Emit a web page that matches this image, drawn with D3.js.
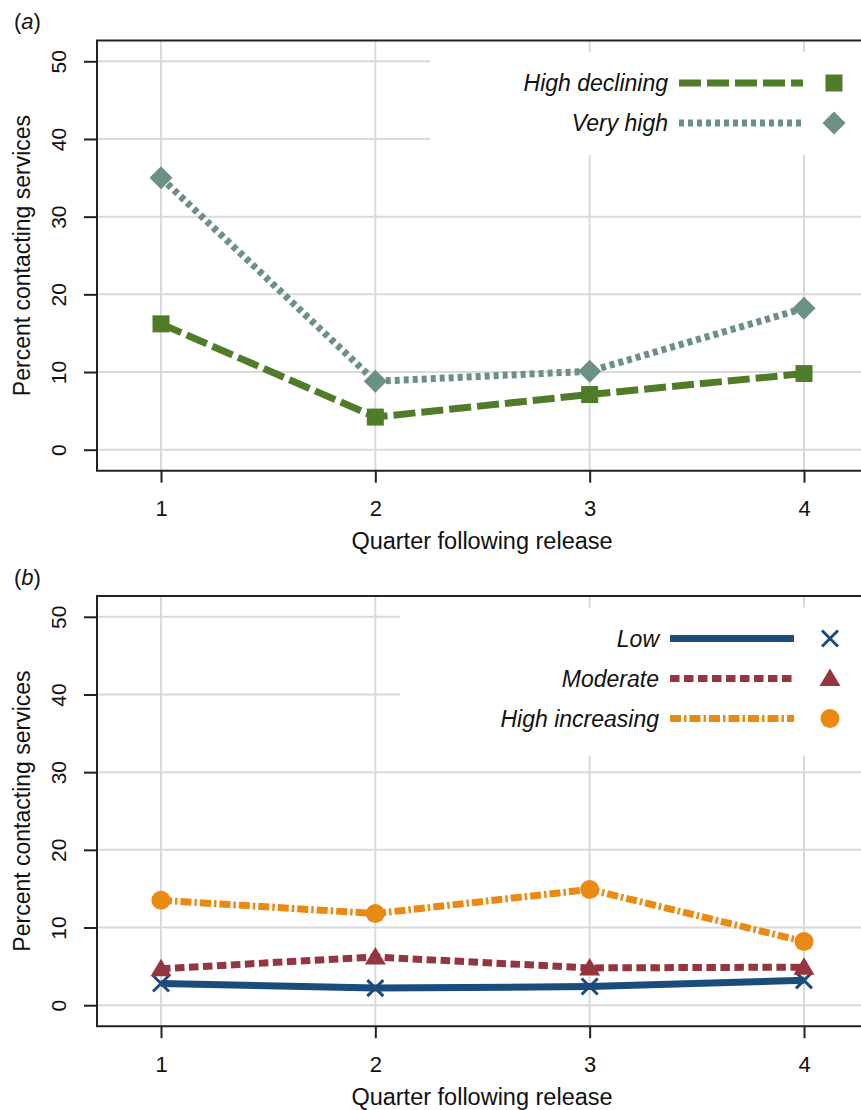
<!DOCTYPE html>
<html>
<head>
<meta charset="utf-8">
<script src="https://cdn.jsdelivr.net/npm/d3@7"></script>
<style>
  body { margin: 0; background: #fff; }
  svg { display: block; font-family: "Liberation Sans", Arial, sans-serif; }
</style>
</head>
<body>
<div id="chart"></div>
<script>
// data
const quarters = [1, 2, 3, 4];
const yTicks = [0, 10, 20, 30, 40, 50];

const highDeclining = [16.2, 4.2, 7.1, 9.8];
const veryHigh = [35.0, 8.8, 10.1, 18.2];

const low = [2.8, 2.2, 2.4, 3.2];
const moderate = [4.7, 6.2, 4.8, 4.9];
const highIncreasing = [13.5, 11.8, 14.9, 8.2];

const panelLabels = ["a", "b"];
const xTitle = "Quarter following release";
const yTitle = "Percent contacting services";

// styles per series
const styles = {
    "High declining": { color: "#507b28", dash: "22,6", marker: "square" },
    "Very high": { color: "#6b9183", dash: "5,4", marker: "diamond" },
    "Low": { color: "#1c4c7c", dash: null, marker: "cross" },
    "Moderate": { color: "#943540", dash: "9.5,4.5", marker: "triangle" },
    "High increasing": { color: "#ea8a12", dash: "11,3,2.5,3", marker: "circle" }
};

const panels = [
    {
        label: panelLabels[0],
        offset: 0,
        series: [
            { name: "High declining", values: highDeclining },
            { name: "Very high", values: veryHigh }
        ],
        legend: { boxX: 430, boxY: 52, boxH: 103, lineX: 679, markerX: 834 }
    },
    {
        label: panelLabels[1],
        offset: 555.5,
        series: [
            { name: "Low", values: low },
            { name: "Moderate", values: moderate },
            { name: "High increasing", values: highIncreasing }
        ],
        legend: { boxX: 400, boxY: 52, boxH: 148, lineX: 670, markerX: 830 }
    }
];

const width = 861;
const height = 1110;
const frame = { left: 97, top: 40.6, bottom: 470.7, right: 870 };

const svg = d3.select("#chart")
    .append("svg")
    .attr("width", width)
    .attr("height", height);

const x = d3.scaleLinear().domain([1, 4]).range([161, 804]);
const y = d3.scaleLinear().domain([0, 50]).range([449.7, 61.3]);

function markerPath(type) {
    switch (type) {
        case "square": return "M-8.5,-8.5H8.5V8.5H-8.5Z";
        case "diamond": return "M0,-11.5L11.5,0L0,11.5L-11.5,0Z";
        case "triangle": return "M0,-10L10.5,7.5L-10.5,7.5Z";
        case "circle": return d3.symbol(d3.symbolCircle, Math.PI * 9.5 * 9.5)();
        case "cross": return "M-8,-8L8,8M-8,8L8,-8";
    }
}

function drawMarker(g, type, color, cx, cy) {
    const p = g.append("path")
        .attr("d", markerPath(type))
        .attr("transform", `translate(${cx},${cy})`);
    if (type === "cross") {
        p.attr("fill", "none").attr("stroke", color).attr("stroke-width", 3);
    } else {
        p.attr("fill", color);
    }
}

function drawPanel(panel) {
    const g = svg.append("g").attr("transform", `translate(0,${panel.offset})`);

    // panel label
    const lab = g.append("text")
        .attr("x", 14)
        .attr("y", 29)
        .attr("font-size", "22px")
        .attr("fill", "#111");
    lab.append("tspan").text("(");
    lab.append("tspan").attr("font-style", "italic").text(panel.label);
    lab.append("tspan").text(")");

    // grid
    g.append("g").selectAll("line")
        .data(yTicks)
        .enter()
        .append("line")
        .attr("x1", frame.left)
        .attr("x2", frame.right)
        .attr("y1", d => y(d))
        .attr("y2", d => y(d))
        .attr("stroke", "#dadada")
        .attr("stroke-width", 2);

    g.append("g").selectAll("line")
        .data(quarters)
        .enter()
        .append("line")
        .attr("x1", d => x(d))
        .attr("x2", d => x(d))
        .attr("y1", frame.top)
        .attr("y2", frame.bottom)
        .attr("stroke", "#dadada")
        .attr("stroke-width", 2);

    // legend background hides the grid
    const lg = panel.legend;
    g.append("rect")
        .attr("x", lg.boxX)
        .attr("y", lg.boxY)
        .attr("width", width - lg.boxX + 10)
        .attr("height", lg.boxH)
        .attr("fill", "#fff");

    // frame
    g.append("path")
        .attr("d", `M${frame.right},${frame.top}H${frame.left}V${frame.bottom}H${frame.right}`)
        .attr("fill", "none")
        .attr("stroke", "#222")
        .attr("stroke-width", 2);

    // y axis
    const yAxis = g.append("g")
        .attr("transform", `translate(${frame.left},0)`)
        .call(d3.axisLeft(y).tickValues(yTicks).tickSize(13).tickFormat(d3.format("d")));
    yAxis.select(".domain").remove();
    yAxis.selectAll(".tick line").attr("stroke", "#222").attr("stroke-width", 2);
    yAxis.selectAll(".tick text")
        .attr("x", 0)
        .attr("dy", 0)
        .attr("text-anchor", "middle")
        .attr("transform", "translate(-31,0) rotate(-90)")
        .attr("font-size", "21px")
        .attr("font-family", "Liberation Sans, Arial, sans-serif")
        .attr("fill", "#111");

    // x axis
    const xAxis = g.append("g")
        .attr("transform", `translate(0,${frame.bottom})`)
        .call(d3.axisBottom(x).tickValues(quarters).tickSize(12).tickPadding(18).tickFormat(d3.format("d")));
    xAxis.select(".domain").remove();
    xAxis.selectAll(".tick line").attr("stroke", "#222").attr("stroke-width", 2);
    xAxis.selectAll(".tick text")
        .attr("font-size", "22px")
        .attr("font-family", "Liberation Sans, Arial, sans-serif")
        .attr("fill", "#111");

    // axis titles
    g.append("text")
        .attr("x", (frame.left + width) / 2 + 3)
        .attr("y", 549)
        .attr("text-anchor", "middle")
        .attr("font-size", "23.5px")
        .attr("fill", "#111")
        .text(xTitle);

    g.append("text")
        .attr("transform", `translate(30,${(y(0) + y(50)) / 2}) rotate(-90)`)
        .attr("text-anchor", "middle")
        .attr("font-size", "23px")
        .attr("fill", "#111")
        .text(yTitle);

    // series lines
    const line = d3.line()
        .x((d, i) => x(quarters[i]))
        .y(d => y(d));

    panel.series.forEach(s => {
        const st = styles[s.name];
        g.append("path")
            .datum(s.values)
            .attr("d", line)
            .attr("fill", "none")
            .attr("stroke", st.color)
            .attr("stroke-width", 7)
            .attr("stroke-dasharray", st.dash)
            .attr("stroke-linejoin", "round");
    });

    // markers
    panel.series.forEach(s => {
        const st = styles[s.name];
        s.values.forEach((v, i) => drawMarker(g, st.marker, st.color, x(quarters[i]), y(v)));
    });

    // legend
    panel.series.forEach((s, i) => {
        const st = styles[s.name];
        const ly = 83 + i * 40;
        g.append("text")
            .attr("x", lg.lineX - 11)
            .attr("y", ly)
            .attr("dy", "0.35em")
            .attr("text-anchor", "end")
            .attr("font-size", "23px")
            .attr("font-style", "italic")
            .attr("fill", "#111")
            .text(s.name);
        g.append("line")
            .attr("x1", lg.lineX)
            .attr("x2", lg.lineX + 124)
            .attr("y1", ly)
            .attr("y2", ly)
            .attr("stroke", st.color)
            .attr("stroke-width", 7)
            .attr("stroke-dasharray", st.dash);
        drawMarker(g, st.marker, st.color, lg.markerX, ly);
    });
}

panels.forEach(drawPanel);
</script>
</body>
</html>
